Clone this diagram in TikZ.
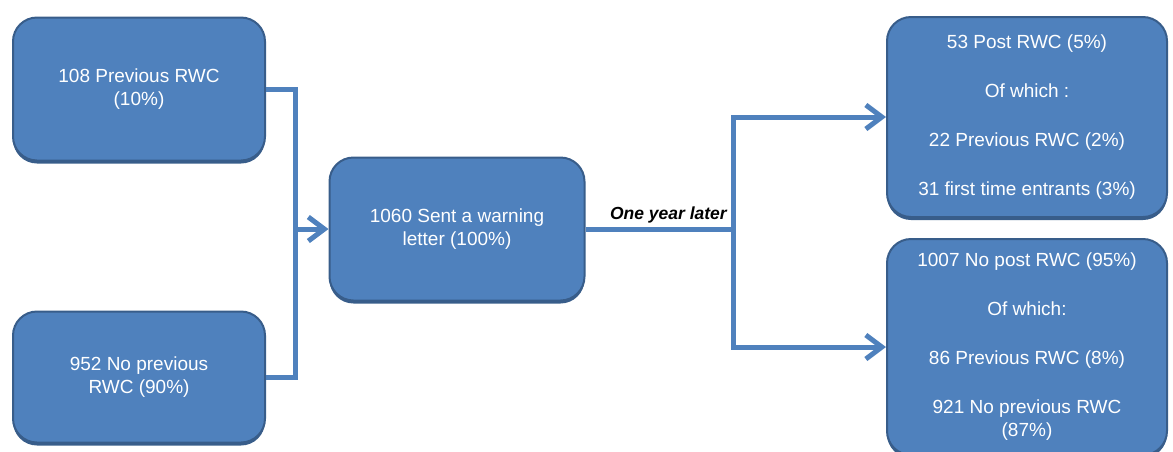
\documentclass[tikz,border=0pt]{standalone}
\usepackage{fontspec}
\setmainfont{Liberation Sans}
\usepackage{xcolor}
\usetikzlibrary{arrows.meta,positioning,shadows}
\definecolor{boxblue}{HTML}{4F81BD}
\definecolor{boxedge}{HTML}{385D8A}

\begin{document}
\begin{tikzpicture}[x=1pt,y=-1pt,>={Straight Barb[length=16pt,width=24pt]},every node/.append style={align=center},box/.style={rectangle, rounded corners=24pt, draw=boxedge, fill=boxblue, line width=2pt, text=white, inner sep=0pt, font=\fontsize{19}{23}\selectfont, drop shadow={shadow xshift=0pt, shadow yshift=-3pt, fill=boxedge, opacity=1}},link/.style={draw=boxblue, line width=5pt},
  lbl/.style={font=\fontsize{17.5}{20}\selectfont\bfseries\itshape, inner sep=3pt}]
    \useasboundingbox (0,0) rectangle (1173,451);
    \clip (0,0) rectangle (1173,451);
    \node [box, minimum width=252pt, minimum height=143pt] (prev) at (139,89) {108 Previous RWC\\(10\%)};
    \node [box, minimum width=252pt, minimum height=131pt] (noprev) at (139,377) {952 No previous\\RWC (90\%)};
    \node [box, minimum width=255pt, minimum height=143pt] (sent) at (457,229) {1060 Sent a warning\\letter (100\%)};
    \node [box, minimum width=280pt, minimum height=200pt] (post) at (1027,117) {53 Post RWC (5\%)\\[26pt]Of which :\\[26pt]22 Previous RWC (2\%)\\[26pt]31 first time entrants (3\%)};
    \node [box, minimum width=280pt, minimum height=216pt] (nopost) at (1027,347) {1007 No post RWC (95\%)\\[26pt]Of which:\\[26pt]86 Previous RWC (8\%)\\[26pt]921 No previous RWC\\(87\%)};
    \coordinate (jl) at ([xshift=-33pt]sent.west);
    \coordinate (jr) at ([xshift=148pt]sent.east);
    \path[link] (prev.east) -- (prev.east -| jl) -- (noprev.east -| jl) -- (noprev.east);
    \path[link, ->] (jl) -- (sent.west);
    \path[link, ->] (sent.east) -- node [lbl, above, pos=0.56] {One year later} (jr) |- (post.west);
    \path[link, ->] (jr) |- (nopost.west);
\end{tikzpicture}
\end{document}
